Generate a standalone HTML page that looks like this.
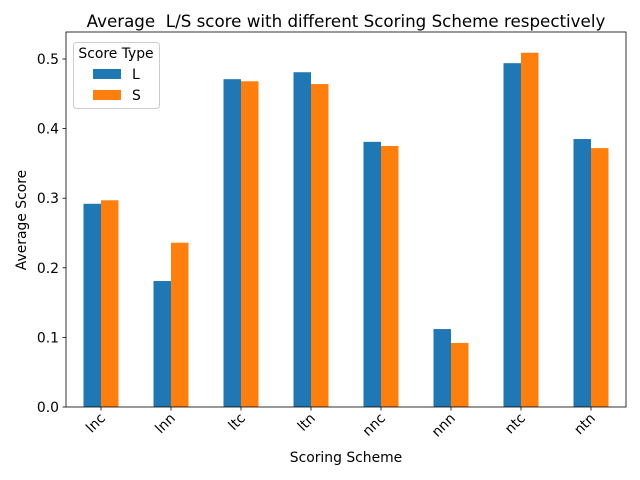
<!DOCTYPE html>
<html><head><meta charset="utf-8"><style>
body{margin:0;background:#fff;}
svg{display:block;font-family:"DejaVu Sans","Liberation Sans",sans-serif;}
</style></head><body>
<svg id="chart" width="640" height="480">
<text x="346" y="27" font-size="16.7" text-anchor="middle" style="white-space:pre">Average  L/S score with different Scoring Scheme respectively</text>
<text x="346" y="462" font-size="13.9" text-anchor="middle">Scoring Scheme</text>
<text x="0" y="0" font-size="13.9" text-anchor="middle" transform="translate(26,220) rotate(-90)">Average Score</text>
<g id="bars"></g>
<g id="axes"></g>
<g>
<rect x="73.5" y="42.5" width="86" height="66" rx="3" fill="#fff" fill-opacity="0.8" stroke="#ccc"/>
<text x="116" y="58" font-size="13.9" text-anchor="middle">Score Type</text>
<rect x="93" y="69" width="28" height="10" fill="#1f77b4"/>
<text x="132" y="79" font-size="13.9">L</text>
<rect x="93" y="90" width="28" height="10" fill="#ff7f0e"/>
<text x="132" y="100" font-size="13.9">S</text>
</g>
</svg>
<script>
const categories=["lnc","lnn","ltc","ltn","nnc","nnn","ntc","ntn"];
const seriesL=[0.292,0.181,0.471,0.481,0.381,0.112,0.494,0.385];
const seriesS=[0.297,0.236,0.468,0.464,0.375,0.092,0.509,0.372];
const yTicks=[0.0,0.1,0.2,0.3,0.4,0.5];
const yTickLabels=["0.0","0.1","0.2","0.3","0.4","0.5"];
const NS="http://www.w3.org/2000/svg";
const L=66,R=626,T=32,B=407,YMAX=0.5388;
const y=v=>B-(v/YMAX)*(B-T);
const step=(R-L)/categories.length;
const xc=i=>L+step*(i+0.5);
const bw=step*0.25;
function mk(tag,attrs,parent){const e=document.createElementNS(NS,tag);for(const k in attrs)e.setAttribute(k,attrs[k]);parent.appendChild(e);return e;}
const bars=document.getElementById('bars'),axes=document.getElementById('axes');
categories.forEach((c,i)=>{
  const b1=mk('rect',{x:xc(i)-bw,y:y(seriesL[i]),width:bw,height:B-y(seriesL[i]),fill:'#1f77b4'},bars);
  
  
  const b2=mk('rect',{x:xc(i),y:y(seriesS[i]),width:bw,height:B-y(seriesS[i]),fill:'#ff7f0e'},bars);
  
  
  mk('line',{x1:xc(i),x2:xc(i),y1:B,y2:B+3.5,stroke:'#000','stroke-width':0.8},axes);
  const t=mk('text',{x:0,y:0,'font-size':13.9,'text-anchor':'end',transform:`translate(${xc(i)+5},${B+12}) rotate(-45)`},axes);
  t.textContent=c;
  
  
});
yTicks.forEach((v,i)=>{
  mk('line',{x1:L-3.5,x2:L,y1:y(v),y2:y(v),stroke:'#000','stroke-width':0.8},axes);
  const t=mk('text',{x:L-7,y:y(v)+5,'font-size':13.9,'text-anchor':'end'},axes);
  t.textContent=yTickLabels[i];
  
  
});
const fr=mk('rect',{x:L,y:T,width:R-L,height:B-T,fill:'none',stroke:'#000','stroke-width':0.8},axes);


</script>
</body></html>
